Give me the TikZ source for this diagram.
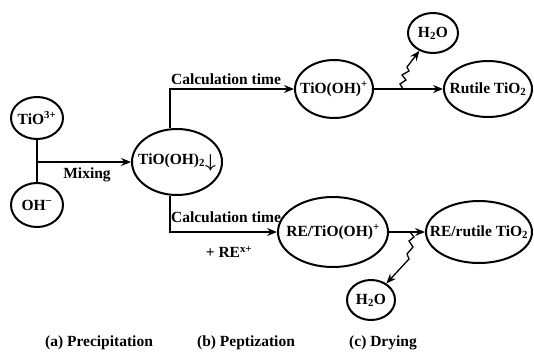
\documentclass[tikz,border=0pt]{standalone}
\usepackage{fontspec}
\setmainfont{Liberation Serif}
\usetikzlibrary{shapes.geometric,arrows.meta}

\begin{document}
\begin{tikzpicture}[x=1pt,y=1pt,line width=1.9pt,>={Stealth[length=10pt,width=8pt,inset=3.5pt]},
  font=\fontsize{15.5}{18}\selectfont\bfseries,
  blob/.style={draw,ellipse,inner sep=0pt,line width=2pt},
  tag/.style={inner sep=1pt}]
\useasboundingbox (0,0) rectangle (534,-351);
% (a) precipitation
\node[blob,minimum width=52pt,minimum height=42pt] (ti3) at (37,-118) {\makebox[0pt]{TiO\textsuperscript{3+}}};
\node[blob,minimum width=52pt,minimum height=44pt] (oh) at (37,-205) {\makebox[0pt]{OH\textsuperscript{−}}};
\coordinate (mix) at (37,-162);
\draw (ti3) -- (oh);
% (b) peptization
\node[blob,minimum width=90pt,minimum height=66pt] (tioh2) at (177,-162) {\makebox[0pt]{TiO(OH)\textsubscript{2}\raisebox{-3pt}{\scalebox{1.3}{\boldmath$\downarrow$}}}};
\draw[->] (mix) -- (tioh2.west);
\node[tag] (mixlab) at (87,-175) {Mixing};
\node[blob,minimum width=78pt,minimum height=58pt] (tioh) at (334,-89) {\makebox[0pt]{TiO(OH)\textsuperscript{+}}};
\node[blob,minimum width=110pt,minimum height=70pt] (retioh) at (333,-232) {\makebox[0pt]{RE/TiO(OH)\textsuperscript{+}}};
\draw[->] ([xshift=-7pt]tioh2.north) |- (tioh.west);
\draw[->] ([xshift=-7pt]tioh2.south) |- (retioh.west);
\node[tag] (caltop) at (226,-79) {Calculation time};
\node[tag] (calbot) at (226,-217) {Calculation time};
\node[tag] (rex) at (229,-252) {+ RE\textsuperscript{x+}};
% (c) drying
\node[blob,minimum width=88pt,minimum height=56pt] (rut) at (488,-89) {\makebox[0pt]{Rutile TiO\textsubscript{2}}};
\node[blob,minimum width=106pt,minimum height=62pt] (rerut) at (479,-232) {\makebox[0pt]{RE/rutile TiO\textsubscript{2}}};
\node[blob,minimum width=50pt,minimum height=40pt] (wtop) at (433,-33) {\makebox[0pt]{H\textsubscript{2}O}};
\node[blob,minimum width=48pt,minimum height=40pt] (wbot) at (371,-300) {\makebox[0pt]{H\textsubscript{2}O}};
\draw[->] (tioh.east) -- (rut.west);
\draw[->] (retioh.east) -- (rerut.west);
\coordinate (ztop) at (403,-89);
\coordinate (zbot) at (410,-232);
\draw[->,line width=1.3pt] (ztop) -- ++(-3,5) -- ++(6,4) -- ++(-4,5) -- ++(7,4) -- ++(-2,4) -- (wtop);
\draw[->,line width=1.3pt] (zbot) -- ++(4,-5) -- ++(-5,-4) -- ++(4,-6) -- ++(-6,-7) -- ++(2,-5) -- (wbot);
% stage captions
\node (capa) at (99,-343) {(a) Precipitation};
\node (capb) at (246,-343) {(b) Peptization};
\node (capc) at (383,-343) {(c) Drying};
\end{tikzpicture}
\end{document}
